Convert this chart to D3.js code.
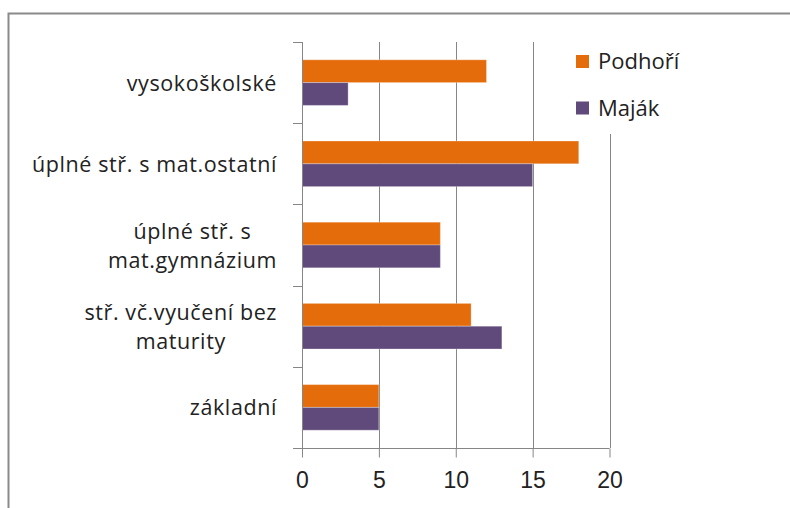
<!DOCTYPE html>
<html lang="cs">
<head>
<meta charset="UTF-8">
<title>Vzdělání</title>
<script src="https://d3js.org/d3.v7.min.js"></script>
<style>
  body { margin: 0; background: #fff; }
  svg { display: block; font-family: 'Open Sans', sans-serif; }
  .lbl { font-size: 21.5px; letter-spacing: 0.6px; fill: #222; }
  .tick-lbl { font-size: 23px; fill: #222; }
  .leg { font-size: 22px; fill: #222; }
</style>
</head>
<body>
<div id="chart"></div>
<script>
// data
const categories = [
  ["vysokoškolské"],
  ["úplné stř. s mat.ostatní"],
  ["úplné stř. s", "mat.gymnázium"],
  ["stř. vč.vyučení bez", "maturity"],
  ["základní"]
];
const seriesNames = ["Podhoří", "Maják"];
const podhori = [12, 18, 9, 11, 5];
const majak = [3, 15, 9, 13, 5];
const xTicks = [0, 5, 10, 15, 20];
const colors = ["#E46C0A", "#604A7B"];

const width = 790, height = 508;
const values = [podhori, majak];

const svg = d3.select("#chart").append("svg")
  .attr("width", width)
  .attr("height", height);

// outer frame
svg.append("rect")
  .attr("x", 8.5).attr("y", 13.5)
  .attr("width", 900).attr("height", 600)
  .attr("fill", "#fff")
  .attr("stroke", "#8a8a8a")
  .attr("stroke-width", 2);

const x = d3.scaleLinear().domain([0, 20]).range([302, 609.5]);
const y = d3.scaleBand()
  .domain(d3.range(categories.length))
  .range([42, 448])
  .padding(0);
const ySub = d3.scaleBand()
  .domain(d3.range(seriesNames.length))
  .range([0, y.bandwidth()])
  .paddingInner(0)
  .paddingOuter(0.78);

// gridlines
svg.append("g")
  .selectAll("line")
  .data(xTicks.slice(1))
  .join("line")
  .attr("x1", d => Math.round(x(d)) + 0.5)
  .attr("x2", d => Math.round(x(d)) + 0.5)
  .attr("y1", 42)
  .attr("y2", 448)
  .attr("stroke", "#868686")
  .attr("stroke-width", 1);

// bars
const grp = svg.append("g")
  .selectAll("g")
  .data(categories.map((c, i) => i))
  .join("g")
  .attr("transform", i => `translate(0,${y(i)})`);

grp.selectAll("rect")
  .data(i => values.map((v, s) => ({ s: s, v: v[i] })))
  .join("rect")
  .attr("x", x(0))
  .attr("y", d => ySub(d.s))
  .attr("width", d => x(d.v) - x(0))
  .attr("height", ySub.bandwidth())
  .attr("fill", d => colors[d.s])
  .attr("stroke", "rgba(255,255,255,0.3)")
  .attr("stroke-width", 1);

// y axis line + ticks
const yAxis = svg.append("g").attr("stroke", "#868686").attr("stroke-width", 1);
yAxis.append("line")
  .attr("x1", Math.round(x(0)) + 0.5).attr("x2", Math.round(x(0)) + 0.5)
  .attr("y1", 42).attr("y2", 457);
yAxis.selectAll("line.t")
  .data(d3.range(categories.length + 1))
  .join("line")
  .attr("class", "t")
  .attr("x1", 293).attr("x2", x(0))
  .attr("y1", i => Math.round(42 + i * y.step()) + 0.5)
  .attr("y2", i => Math.round(42 + i * y.step()) + 0.5);

// x axis
const xAxis = d3.axisBottom(x).tickValues(xTicks).tickSize(9).tickPadding(10);
const xg = svg.append("g")
  .attr("transform", "translate(0,448.5)")
  .call(xAxis);
xg.select(".domain").attr("stroke", "#868686").attr("d", `M293,0H${x(20)}`);
xg.selectAll(".tick line").attr("stroke", "#868686");
xg.selectAll(".tick text")
  .attr("class", "tick-lbl")
  .attr("font-family", null)
  .attr("font-size", null)
  .attr("fill", null)
  .attr("dy", "0.9em");

// category labels
const lineH = 29;
const lbl = svg.append("g")
  .selectAll("text")
  .data(categories)
  .join("text")
  .attr("class", "lbl")
  .attr("text-anchor", "middle")
  .attr("y", (d, i) => y(i) + y.bandwidth() / 2 + 8);
lbl.each(function (lines, i) {
  const t = d3.select(this);
  t.selectAll("tspan")
    .data(lines)
    .join("tspan")
    .text(s => s)
    .attr("x", 0)
    .attr("dy", (s, j) => j === 0 ? -(lines.length - 1) * lineH / 2 : lineH);
  // right-align block, lines centred inside it
  const w = this.getBBox().width;
  t.attr("transform", `translate(${277 - w / 2},0)`);
});

// legend
const leg = svg.append("g");
leg.append("rect")
  .attr("x", 560).attr("y", 42)
  .attr("width", 160).attr("height", 92)
  .attr("fill", "#fff");
const li = leg.selectAll("g")
  .data(seriesNames)
  .join("g")
  .attr("transform", (d, i) => `translate(576,${55 + i * 46.5})`);
li.append("rect")
  .attr("width", 13).attr("height", 13)
  .attr("fill", (d, i) => colors[i]);
li.append("text")
  .attr("class", "leg")
  .attr("x", 22)
  .attr("y", 14)
  .text(d => d);
</script>
</body>
</html>
